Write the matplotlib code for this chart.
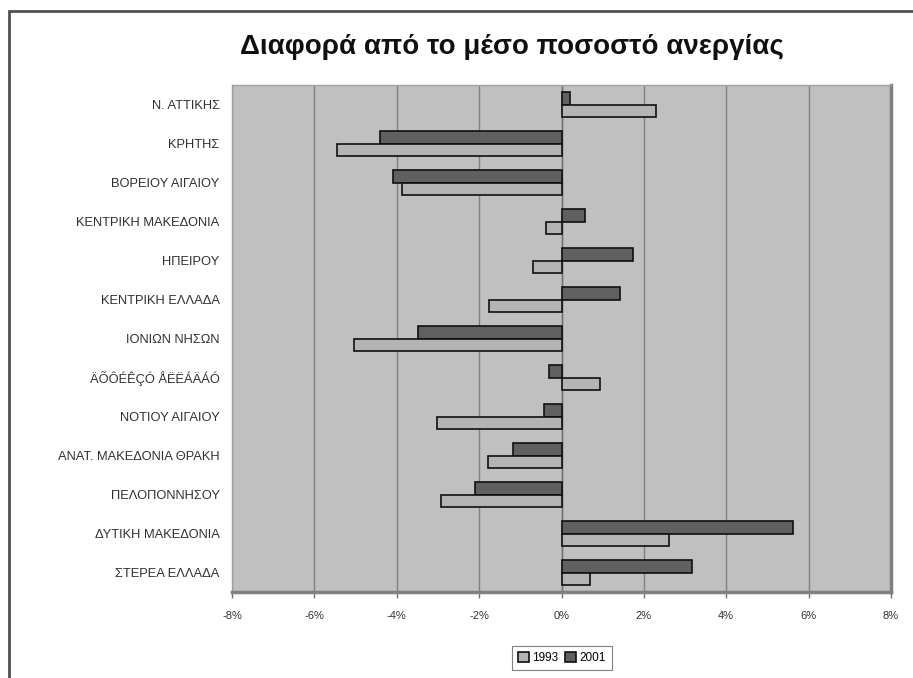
import matplotlib
matplotlib.use("Agg")
import matplotlib.pyplot as plt
from matplotlib.patches import Rectangle
from matplotlib.ticker import FuncFormatter

plt.rcParams['font.family'] = ['Liberation Sans', 'DejaVu Sans']

categories = ["Ν. ΑΤΤΙΚΗΣ", "ΚΡΗΤΗΣ", "ΒΟΡΕΙΟΥ ΑΙΓΑΙΟΥ", "ΚΕΝΤΡΙΚΗ ΜΑΚΕΔΟΝΙΑ",
              "ΗΠΕΙΡΟΥ", "ΚΕΝΤΡΙΚΗ ΕΛΛΑΔΑ", "ΙΟΝΙΩΝ ΝΗΣΩΝ", "ÄÕÔÉÊÇÓ ÅËËÁÄÁÓ",
              "ΝΟΤΙΟΥ ΑΙΓΑΙΟΥ", "ΑΝΑΤ. ΜΑΚΕΔΟΝΙΑ ΘΡΑΚΗ", "ΠΕΛΟΠΟΝΝΗΣΟΥ",
              "ΔΥΤΙΚΗ ΜΑΚΕΔΟΝΙΑ", "ΣΤΕΡΕΑ ΕΛΛΑΔΑ"]
v1993 = [2.29, -5.46, -3.87, -0.37, -0.69, -1.77, -5.04, 0.94, -3.03, -1.78, -2.93, 2.61, 0.69]
v2001 = [0.20, -4.41, -4.09, 0.58, 1.74, 1.43, -3.48, -0.31, -0.43, -1.18, -2.11, 5.61, 3.16]
xticks = [-8, -6, -4, -2, 0, 2, 4, 6, 8]
series_names = ["1993", "2001"]
title = "Διαφορά από το μέσο ποσοστό ανεργίας"

W, H = 913, 678
fig = plt.figure(figsize=(W / 100, H / 100), dpi=100)

# outer chart frame
fig.patches.append(Rectangle((9 / W, -0.05), 1.2, 1 - 11 / H + 0.05, transform=fig.transFigure,
                             fill=False, edgecolor='#505050', lw=2, zorder=0))

ax = fig.add_axes([232 / W, 1 - 592 / H, (891 - 232) / W, (592 - 85) / H])
ax.set_facecolor('#c0c0c0')

n = len(categories)
ypos = [n - 1 - i for i in range(n)]
h = 0.32
ax.barh([y + h / 2 for y in ypos], v2001, height=h, color='#606060', edgecolor='#101010',
        lw=1.2, label=series_names[1], zorder=3)
ax.barh([y - h / 2 for y in ypos], v1993, height=h, color='#b4b4b4', edgecolor='#101010',
        lw=1.2, label=series_names[0], zorder=3)

ax.set_xlim(-8, 8)
ax.set_ylim(-0.5, n - 0.5)
ax.set_xticks(xticks)
ax.xaxis.set_major_formatter(FuncFormatter(lambda v, p: f"{v:.0f}%"))
ax.set_yticks(ypos)
ax.set_yticklabels(categories)
ax.tick_params(axis='y', length=0, pad=9, labelsize=9.3, labelcolor='#303030')
ax.tick_params(axis='x', length=4, width=1, color='#707070', pad=10, labelsize=8,
               labelcolor='#303030')
ax.grid(axis='x', color='#808080', lw=1, zorder=1)
ax.axvline(0, color='#707070', lw=1, zorder=2)
for s in ['top', 'left']:
    ax.spines[s].set_color('#a0a0a0')
    ax.spines[s].set_linewidth(1)
for s in ['bottom', 'right']:
    ax.spines[s].set_color('#808080')
    ax.spines[s].set_linewidth(2.5)

fig.text(512 / W, 1 - 47 / H, title, ha='center', va='center', fontsize=20, fontweight='bold',
         color='#101010')

handles, labels = ax.get_legend_handles_labels()
leg = fig.legend(handles[::-1], labels[::-1], loc='center', bbox_to_anchor=(562 / W, 1 - 658 / H),
                 ncol=2, fontsize=8.5, frameon=True, fancybox=False, handlelength=0.9,
                 handleheight=0.9, handletextpad=0.3, columnspacing=0.6, borderpad=0.5)
leg.get_frame().set_edgecolor('#606060')
leg.get_frame().set_linewidth(0.8)

fig.savefig("out.png", dpi=100)
